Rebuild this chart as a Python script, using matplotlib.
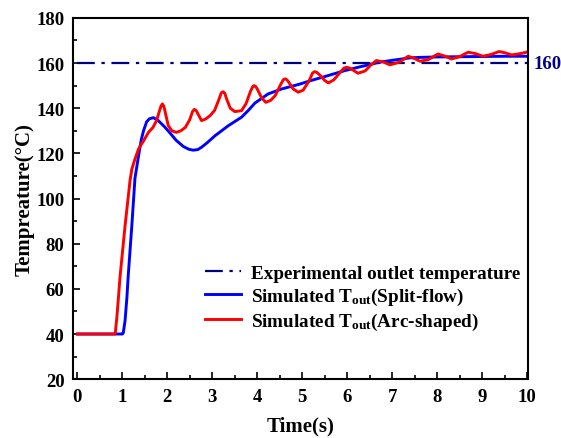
import matplotlib
matplotlib.use("Agg")
from matplotlib import pyplot as plt
from matplotlib.ticker import MultipleLocator

plt.rcParams["font.family"] = "Liberation Serif"
plt.rcParams["font.weight"] = "bold"
plt.rcParams["mathtext.fontset"] = "custom"
plt.rcParams["mathtext.rm"] = "Liberation Serif:bold"
plt.rcParams["mathtext.it"] = "Liberation Serif:bold"
plt.rcParams["mathtext.bf"] = "Liberation Serif:bold"

# experimental outlet temperature
exp_temp = 160

# Split-flow
t_split = [0, 1.0, 1.02, 1.06, 1.10, 1.13, 1.21, 1.28, 1.32, 1.36, 1.42, 1.47, 1.54, 1.60,
           1.69, 1.80, 1.95, 2.06, 2.20, 2.36, 2.48, 2.58, 2.68, 2.76, 2.88, 3.06, 3.36,
           3.65, 3.80, 3.95, 4.24, 4.54, 4.95, 5.20, 5.50, 5.94, 6.30, 6.73, 7.00, 7.40,
           7.62, 8.0, 8.5, 9.0, 9.5, 10.0]
T_split = [40, 40, 40.5, 46, 56, 65.8, 88, 109, 114, 119, 126, 130, 134, 135.3,
           135.8, 134.5, 131.5, 129, 125.7, 123, 121.8, 121.4, 121.7, 122.7, 124.6, 127.8, 132.3,
           136, 139, 142.3, 146.3, 148.5, 150.7, 152.3, 154, 156.6, 158.4, 160.4, 161.2, 162.3,
           162.5, 162.7, 162.8, 162.9, 163, 163]

# Arc-shaped
t_arc = [0, 0.84, 0.88, 0.95, 1.06, 1.17, 1.21, 1.28, 1.36, 1.47, 1.58, 1.68, 1.76, 1.82,
         1.86, 1.89, 1.92, 1.95, 2.02, 2.10, 2.20, 2.30, 2.40, 2.50, 2.56, 2.60, 2.64, 2.68,
         2.76, 2.85, 2.95, 3.05, 3.15, 3.20, 3.24, 3.28, 3.32, 3.40, 3.50, 3.65, 3.75, 3.85,
         3.90, 3.93, 3.97, 4.00, 4.10, 4.19, 4.30, 4.40, 4.52, 4.58, 4.62, 4.66, 4.70, 4.80,
         4.91, 5.02, 5.15, 5.23, 5.28, 5.33, 5.40, 5.50, 5.58, 5.70, 5.85, 5.93, 5.99, 6.05,
         6.12, 6.24, 6.40, 6.52, 6.65, 6.80, 6.95, 7.15, 7.36, 7.50, 7.62, 7.80, 8.02, 8.18,
         8.32, 8.50, 8.69, 8.85, 9.02, 9.20, 9.38, 9.52, 9.65, 9.80, 9.95, 10.0]
T_arc = [40, 40, 48, 65.8, 88, 108, 113, 117.5, 122, 125.5, 129.3, 131.5, 134.5, 138.5,
         141, 141.9, 141, 138.5, 132.3, 130, 129.3, 130, 131.5, 135, 138.5, 139.5, 139, 137.5,
         134.5, 135.2, 136.7, 139, 144, 146.8, 147.3, 146.5, 144, 140, 138.5, 138.9, 142, 147.5,
         149.6, 150, 149.5, 148.5, 144.5, 142.6, 143.5, 145.6, 150.5, 152.6, 153, 152.6, 151.5, 148.5,
         147.1, 148, 152, 155.6, 156.2, 155.8, 154.5, 152.3, 151.2, 152.5, 156, 157.8, 158.1, 157.8,
         157, 155.5, 156.5, 159, 161.1, 160.5, 159.2, 160.3, 163, 162, 160.8, 161.5, 164, 163,
         161.8, 162.8, 164.8, 164.2, 163, 163.8, 165.1, 164.5, 163.6, 164, 164.6, 164.9]

fig = plt.figure(figsize=(5.61, 4.39), dpi=100)
ax = fig.add_axes([0.130, 0.134, 0.811, 0.823])

ax.plot([0, 10], [exp_temp, exp_temp], color="#000080", lw=1.6, ls=(0, (8, 3, 1.5, 3)),
        label="Experimental outlet temperature")
ax.plot(t_split, T_split, color="#0000ff", lw=2.1, label="Simulated T$_{\\mathrm{out}}$(Split-flow)")
ax.plot(t_arc, T_arc, color="#ff0000", lw=2.1, label="Simulated T$_{\\mathrm{out}}$(Arc-shaped)")

ax.set_xlim(-0.1, 10.02)
ax.set_ylim(20, 180)
ax.xaxis.set_major_locator(MultipleLocator(1))
ax.xaxis.set_minor_locator(MultipleLocator(0.5))
ax.yaxis.set_major_locator(MultipleLocator(20))
ax.yaxis.set_minor_locator(MultipleLocator(10))
ax.tick_params(which="both", direction="in", labelsize=13.5, width=1.2, pad=6)
ax.tick_params(which="major", length=5)
ax.tick_params(which="minor", length=3)
for s in ax.spines.values():
    s.set_linewidth(1.5)

ax.set_xlabel("Time(s)", fontsize=15, fontweight="bold", labelpad=8)
ax.set_ylabel("Tempreature(°C)", fontsize=15, fontweight="bold", labelpad=1)

ax.text(1.012, exp_temp, "160", transform=ax.get_yaxis_transform(), color="#000080",
        fontsize=13.5, fontweight="bold", va="center", ha="left")

ax.legend(loc="upper left", bbox_to_anchor=(0.273, 0.338), borderaxespad=0, frameon=False,
          fontsize=13.8, handlelength=1.9, handletextpad=0.5, labelspacing=0.2)

fig.savefig("out.png", dpi=100)
